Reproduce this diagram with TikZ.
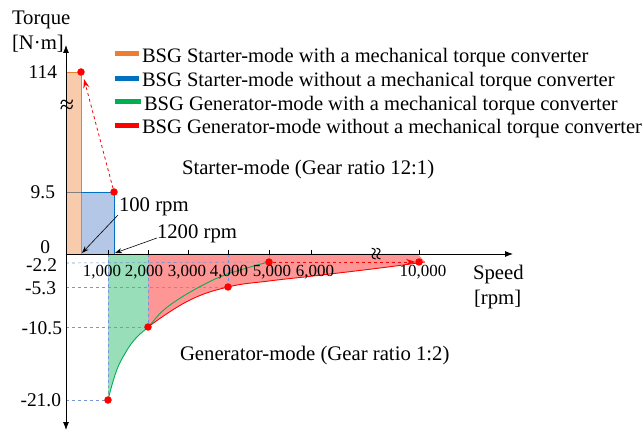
\documentclass[tikz,border=0pt]{standalone}
\usepackage{fontspec}
\setmainfont{Liberation Serif}
\usetikzlibrary{arrows.meta}
\definecolor{cOr}{RGB}{237,125,49}
\definecolor{cBl}{RGB}{0,112,192}
\definecolor{cGr}{RGB}{0,176,80}
\definecolor{cRd}{RGB}{255,0,0}
\definecolor{fOr}{RGB}{248,203,173}
\definecolor{fBl}{RGB}{180,199,231}
\definecolor{fGr}{RGB}{152,222,184}
\definecolor{fRd}{RGB}{255,150,150}
\definecolor{grid}{RGB}{120,150,210}
\begin{document}
\begin{tikzpicture}[x=1bp,y=-1bp,
  every node/.style={inner sep=0pt, outer sep=0pt},
  lbl/.style={font=\fontsize{19.5}{22}\selectfont},
  big/.style={font=\fontsize{20.8}{24}\selectfont},
  xlbl/.style={font=\fontsize{17}{20}\selectfont, anchor=base},
  ylbl/.style={font=\fontsize{19.5}{22}\selectfont, anchor=east},
  gridline/.style={draw=grid, dashed, line width=0.6bp},
  dot/.style={circle, fill=cRd, minimum size=7.5bp},
  swatch/.style={line width=5bp},
  axis/.style={line width=0.8bp, black},
  callout/.style={line width=0.6bp, -{Stealth[length=7bp,width=5bp]}},
  reddash/.style={draw=cRd, dashed, line width=0.8bp, -{Stealth[length=9bp,width=6bp]}}]
\useasboundingbox (0,0) rectangle (643,434);

% key coordinates
\coordinate (O) at (66,254);
\coordinate (g1) at (108,400);
\coordinate (gC) at (116.4,371);
\coordinate (gB) at (126.5,351);
\coordinate (gA) at (136.5,337.5);
\coordinate (g4) at (148,327);
\coordinate (g5) at (170,305);
\coordinate (g6) at (213,280);
\coordinate (g7) at (247,268);
\coordinate (g8) at (269,262);
\coordinate (r5) at (188,301);
\coordinate (r6) at (228,287);
\coordinate (r6b) at (269,281);
\coordinate (r7) at (313,276);
\coordinate (r8) at (380,268);
\coordinate (r9) at (425,262);

% fills
\fill[fOr] (66,72) rectangle (81,254);
\fill[fBl] (81,192) rectangle (114,254);
\fill[fRd] (148,254) -- (418,254) -- (r9) -- plot[smooth, tension=0.7] coordinates {(r9) (r8) (r7) (r6b) (r6) (r5) (g4)} -- cycle;
\fill[fGr] (108,254) -- (148,254) -- plot[smooth, tension=0.7] coordinates {(g4) (gA) (gB) (gC) (g1)} -- cycle;

% bar outlines
\draw[cOr, line width=0.8bp] (66,72) -- (81,72) -- (81,254);
\draw[cBl, line width=0.8bp] (81,192) -- (114,192) -- (114,254);
\draw[gray, line width=0.8bp] (66,192) -- (81,192);

% grid lines
\draw[gridline] (66,263) -- (g8);
\draw[gridline] (66,287) -- (r6);
\draw[gridline] (66,327) -- (g4);
\draw[gridline] (66,400) -- (g1);
\draw[gridline] (108,254) -- (g1);
\draw[gridline] (148,254) -- (g4);
\draw[gridline] (228,254) -- (r6);
\draw[gridline] (269,254) -- (g8);

% curves
\draw[cRd, line width=0.9bp] plot[smooth, tension=0.7] coordinates {(g4) (r5) (r6) (r6b) (r7) (r8) (r9)};
\draw[cGr, line width=0.9bp] plot[smooth, tension=0.7] coordinates {(g1) (gC) (gB) (gA) (g4) (g5) (g6) (g7) (g8)};

% axes
\draw[axis, {Latex[length=8bp,width=6bp]}-{Latex[length=8bp,width=6bp]}] (66,430) -- (66,45);
\draw[axis, -{Latex[length=8bp,width=6bp]}] (O) -- (513,254);
\foreach \xx in {108,148,188,228,269,311,419} \draw[line width=0.7bp] (\xx,250) -- (\xx,254);

% axis breaks
\node[font=\fontsize{26}{28}\selectfont] (brk1) at (67,107) {≈};
\node[font=\fontsize{24}{26}\selectfont, rotate=90] (brk2) at (378,254) {≈};

% dots
\node[dot] (d114) at (81,72) {};
\node[dot] (d95) at (114,192) {};
\node[dot] (dg1) at (g1) {};
\node[dot] (dg4) at (g4) {};
\node[dot] (dr6) at (r6) {};
\node[dot] (dg8) at (g8) {};
\node[dot] (d10k) at (419,262) {};

% red dashed arrows
\draw[reddash] (d95) -- (84,79);
\draw[reddash] (dg8) -- (d10k.west);

% y labels
\node[ylbl] (y114) at (57,72) {114};
\node[ylbl] (y95) at (55,192) {9.5};
\node[ylbl] (y0) at (50,247.5) {0};
\node[ylbl] (y22) at (57,265) {-2.2};
\node[ylbl] (y53) at (56,288) {-5.3};
\node[ylbl] (y105) at (62,328) {-10.5};
\node[ylbl] (y21) at (61,400) {-21.0};

% x labels
\node[xlbl] (x1) at (102,277) {1,000};
\node[xlbl] (x2) at (144,277) {2,000};
\node[xlbl] (x3) at (187,277) {3,000};
\node[xlbl] (x4) at (229,277) {4,000};
\node[xlbl] (x5) at (272,277) {5,000};
\node[xlbl] (x6) at (315,277) {6,000};
\node[xlbl] (x10) at (423,277) {10,000};

% axis titles
\node[big, anchor=base west] (torque) at (12,25) {Torque};
\node[big, anchor=base west] (unitT) at (12,50) {[N·m]};
\node[big, anchor=base west] (speed) at (473,280) {Speed};
\node[big, anchor=base west] (unitS) at (474,305) {[rpm]};

% mode labels
\node[big, anchor=base west] (starter) at (182,175) {Starter-mode (Gear ratio 12:1)};
\node[big, anchor=base west] (gen) at (180,360) {Generator-mode (Gear ratio 1:2)};

% rpm callouts
\node[big, anchor=base west] (r100) at (119,212) {100 rpm};
\node[big, anchor=base west] (r1200) at (157,239) {1200 rpm};
\coordinate (a100) at (82,253);
\coordinate (a1200) at (115,253);
\draw[callout] (118,215) -- (a100);
\draw[callout] (157,238) -- (a1200);

% legend
\draw[swatch, cOr] (115,54) -- (139,54);
\draw[swatch, cBl] (115,79) -- (139,79);
\draw[swatch, cGr] (115,102) -- (141,102);
\draw[swatch, cRd] (115,126) -- (139,126);
\node[font=\fontsize{20.6}{23}\selectfont, anchor=base west] (leg1) at (142,63) {BSG Starter-mode with a mechanical torque converter};
\node[font=\fontsize{20.6}{23}\selectfont, anchor=base west] (leg2) at (142,87) {BSG Starter-mode without a mechanical torque converter};
\node[font=\fontsize{20.6}{23}\selectfont, anchor=base west] (leg3) at (144,111) {BSG Generator-mode with a mechanical torque converter};
\node[font=\fontsize{20.6}{23}\selectfont, anchor=base west] (leg4) at (142,134) {BSG Generator-mode without a mechanical torque converter};
\end{tikzpicture}
\end{document}
